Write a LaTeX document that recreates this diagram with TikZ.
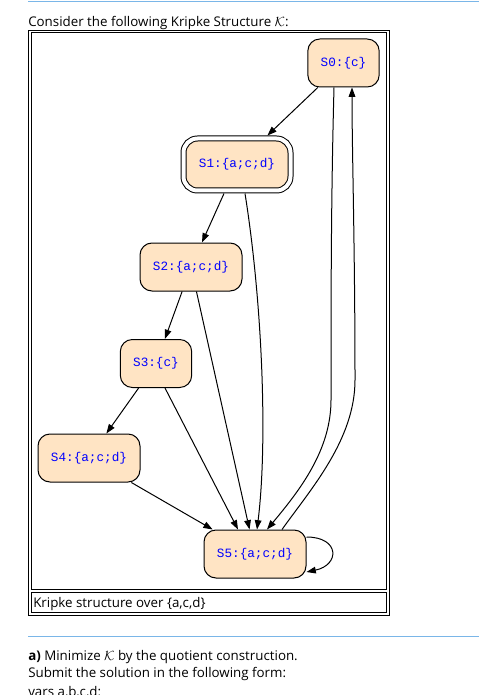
\documentclass[tikz,border=0pt]{standalone}
\usepackage{fontspec}
\setmainfont{Open Sans}
\newfontfamily\statefont{Liberation Mono}
\usetikzlibrary{arrows.meta, calc}
\definecolor{kbisque}{HTML}{FFE4C4}
\definecolor{kline}{HTML}{7AB6E8}
\definecolor{klabel}{HTML}{0000FF}
\tikzset{
  kstate/.style   = {draw=black, line width=0.75pt, fill=kbisque, rounded corners=9pt,
                     text=klabel, font=\statefont\fontsize{9.5}{11}\selectfont,
                     inner sep=0pt, minimum width=76.5pt, minimum height=36pt},
  kstatesm/.style = {kstate, minimum width=53.5pt},
  kinit/.style    = {kstate, double, double distance=3pt, minimum width=80.25pt,
                     minimum height=39pt, outer sep=2.25pt, rounded corners=10.5pt},
  kedge/.style    = {draw=black, line width=0.75pt, -{Triangle[length=7pt, width=5pt]}},
  kframe/.style   = {draw=black, line width=0.75pt},
  ktext/.style    = {anchor=base west, inner sep=0pt, font=\fontsize{10}{12}\selectfont},
  ksep/.style     = {draw=kline, line width=0.75pt},
}

\begin{document}
\begin{tikzpicture}[x=0.75pt, y=0.75pt]
  \useasboundingbox[fill=white] (0,0) rectangle (479,-695);
  % page around the figure
  \draw[ksep] (28,-2) -- (479,-2);
  \node[ktext] (title) at (28,-27) {Consider the following Kripke Structure $\mathcal{K}$:};
  \draw[kframe] (28,-30.5) rectangle (389,-615);
  \draw[kframe] (31,-33) rectangle (386.5,-589.5);
  \draw[kframe] (31,-592.5) rectangle (386.5,-612.5);
  \node[ktext] (caption) at (33,-607) {Kripke structure over \{a,c,d\}};
  \draw[ksep] (28,-636.5) -- (479,-636.5);
  \node[ktext] (taska) at (28,-660) {\textbf{a)} Minimize $\mathcal{K}$ by the quotient construction.};
  \node[ktext] (submit) at (28,-677) {Submit the solution in the following form:};
  \node[ktext] (vars) at (28,-696) {vars a,b,c,d:};

  % states
  \node[kstatesm] (S0) at (343.5,-63)  {S0:\{c\}};
  \node[kinit]    (S1) at (237,-164.5) {S1:\{a;c;d\}};
  \node[kstate]   (S2) at (191,-267)   {S2:\{a;c;d\}};
  \node[kstatesm] (S3) at (156,-363.5) {S3:\{c\}};
  \node[kstate]   (S4) at (89,-458)    {S4:\{a;c;d\}};
  \node[kstate]   (S5) at (255,-554)   {S5:\{a;c;d\}};

  % transitions
  \draw[kedge] (S0) -- (S1);
  \draw[kedge] (S1) -- (S2);
  \draw[kedge] (S2) -- (S3);
  \draw[kedge] (S3) -- (S4);
  \draw[kedge] (S4) -- (S5);
  \draw[kedge] (S2) -- (S5);
  \draw[kedge] ($(S3.south)+(9,0)$) -- ($(S5.north)+(-17,0)$);
  \draw[kedge] ($(S1.south)+(8,0)$) .. controls (262,-300) and (268,-440) .. ($(S5.north)+(2,0)$);
  \draw[kedge] ($(S0.south)+(-9.5,0)$) .. controls (331,-200) and (331,-300) .. (331,-400)
    .. controls (331,-450) and (300,-490) .. ($(S5.north)+(12,0)$);
  \draw[kedge] ($(S5.north)+(27,0)$) .. controls (310,-490) and (355,-440) .. (355,-380)
    .. controls (355,-250) and (352,-150) .. ($(S0.south)+(8.5,0)$);
  \draw[kedge] ($(S5.east)+(0,17)$) .. controls (340,-537) and (340,-565) .. ($(S5.east)+(0,-18)$);
\end{tikzpicture}
\end{document}
